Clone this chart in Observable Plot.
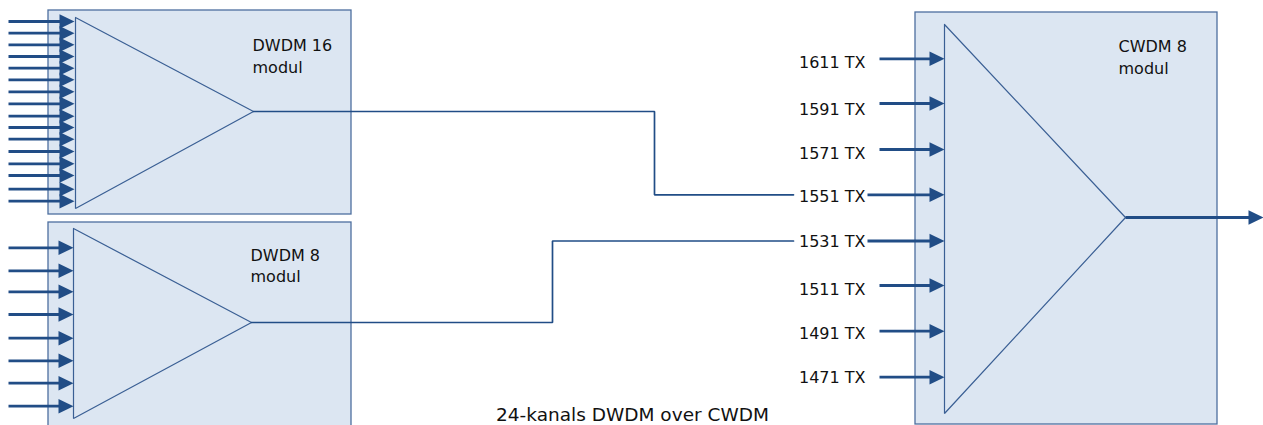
<!DOCTYPE html>
<html>
<head>
<meta charset="utf-8">
<script src="https://cdn.jsdelivr.net/npm/d3@7"></script>
<script src="https://cdn.jsdelivr.net/npm/@observablehq/plot@0.6"></script>
<style>
  html, body { margin: 0; padding: 0; background: #fff; }
  #chart svg { display: block; }
</style>
</head>
<body>
<div id="chart"></div>
<script>
// ---- Data ----
const moduleNames = ["DWDM 16", "DWDM 8", "CWDM 8"];
const moduleSub = "modul";
const caption = "24-kanals DWDM over CWDM";
const cwdmChannels = ["1611", "1591", "1571", "1551", "1531", "1511", "1491", "1471"];
const connectedChannels = ["1551", "1531"]; // DWDM 16 -> 1551, DWDM 8 -> 1531

// ---- Layout (pixel coordinates of the diagram) ----
const boxX1 = [48, 48, 915];
const boxX2 = [351, 351, 1217];
const boxY1 = [10, 222, 12];
const boxY2 = [214, 440, 424];
const titleX = [252, 250, 1118];
const titleY = [50, 260, 51];
const subY = [72, 281, 73];
// triangles: top-left, bottom-left, apex
const triX = [[75, 75, 253], [73, 73, 251], [944, 944, 1125]];
const triY = [[17, 208, 111], [228, 418, 322], [24, 413, 217]];
// input arrows
const dwdm16Y = [21, 32.7, 44.3, 56, 67.7, 79.3, 91.3, 103.3, 115.7, 127, 138.7, 151, 163.3, 175, 188.7, 200.7];
const dwdm8Y = [247.3, 270.3, 291.3, 314, 337.7, 360.3, 382.7, 405.7];
const cwdmY = [58.3, 103, 149, 194.3, 240.5, 285, 330.7, 376.7];
const cwdmLabelY = [62, 109, 153, 196.5, 241, 289, 333.5, 377.5];
// connections (polylines)
const conn1X = [253, 654, 654, 793], conn1Y = [111, 111, 194.3, 194.3];
const conn2X = [251, 552, 552, 793], conn2Y = [322, 322, 240.5, 240.5];

// ---- Build tables ----
const boxes = moduleNames.map((n, i) => ({n, x1: boxX1[i], x2: boxX2[i], y1: boxY1[i], y2: boxY2[i]}));
const tri = [];
triX.forEach((xs, i) => { [0, 1, 2, 0].forEach(k => tri.push({i, x: xs[k], y: triY[i][k]})); });
const arrows = [];
dwdm16Y.forEach(y => arrows.push({x1: 8, x2: 74, y}));
dwdm8Y.forEach(y => arrows.push({x1: 8, x2: 73, y}));
cwdmChannels.forEach((c, i) => arrows.push({x1: connectedChannels.includes(c) ? 867 : 879, x2: 944, y: cwdmY[i]}));
const outArrow = {x1: 1125, x2: 1263, y: 217};
const conns = [];
conn1X.forEach((x, k) => conns.push({c: 1, x, y: conn1Y[k]}));
conn2X.forEach((x, k) => conns.push({c: 2, x, y: conn2Y[k]}));
const titles = [];
moduleNames.forEach((n, i) => {
  titles.push({t: n, x: titleX[i], y: titleY[i]});
  titles.push({t: moduleSub, x: titleX[i], y: subY[i]});
});
const chLabels = cwdmChannels.map((c, i) => ({t: c + " TX", y: cwdmLabelY[i]}));

const headSymbol = {
  draw(context) {
    context.moveTo(0, 0);
    context.lineTo(-15, -7.3);
    context.lineTo(-15, 7.3);
    context.closePath();
  }
};

const arrowColor = "#214d86";
const font = "DejaVu Sans, Verdana, sans-serif";

const chart = Plot.plot({
  width: 1263,
  height: 425,
  margin: 0,
  x: {domain: [0, 1263], range: [0, 1263], axis: null},
  y: {domain: [0, 425], range: [0, 425], axis: null},
  style: {fontFamily: font, background: "white"},
  marks: [
    Plot.rect(boxes, {x1: "x1", x2: "x2", y1: "y1", y2: "y2", fill: "#dce6f2", stroke: "#4d6f9f", strokeWidth: 1.3}),
    Plot.line(tri, {x: "x", y: "y", z: "i", stroke: "#3a5f94", strokeWidth: 1.2, curve: "linear", strokeLinejoin: "miter"}),
    Plot.line(conns, {x: "x", y: "y", z: "c", stroke: arrowColor, strokeWidth: 1.7, strokeLinejoin: "miter"}),
    Plot.link(arrows, {x1: "x1", x2: d => d.x2 - 8, y1: "y", y2: "y", stroke: arrowColor, strokeWidth: 2.8}),
    Plot.dot(arrows, {x: "x2", y: "y", symbol: headSymbol, r: 5, fill: arrowColor, stroke: "none"}),
    Plot.link([outArrow], {x1: "x1", x2: d => d.x2 - 8, y1: "y", y2: "y", stroke: arrowColor, strokeWidth: 2.8}),
    Plot.dot([outArrow], {x: "x2", y: "y", symbol: headSymbol, r: 5, fill: arrowColor, stroke: "none"}),
    Plot.text(titles, {x: "x", y: "y", text: "t", textAnchor: "start", lineAnchor: "bottom", fontSize: 16, fill: "#111"}),
    Plot.text(chLabels, {x: 865, y: "y", text: "t", textAnchor: "end", lineAnchor: "middle", fontSize: 16, fill: "#111"}),
    Plot.text([caption], {x: 632, y: 420, text: d => d, textAnchor: "middle", lineAnchor: "bottom", fontSize: 18.5, fill: "#111"})
  ]
});
document.getElementById("chart").appendChild(chart);
</script>
</body>
</html>
